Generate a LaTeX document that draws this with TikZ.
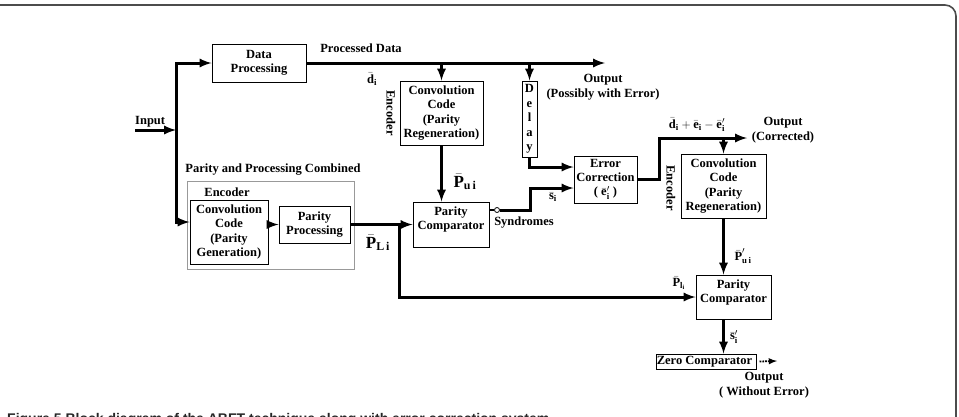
\documentclass[tikz,border=0pt]{standalone}
\usepackage{amsmath}
\usepackage{fontspec}
\setmainfont{Liberation Serif}
\newfontfamily\capfont{Liberation Sans}
\usetikzlibrary{shapes,arrows,positioning,calc}
\tikzstyle{block} = [rectangle, draw, line width=1pt, align=center, inner sep=1pt, font=\bfseries\fontsize{12.5}{14}\selectfont]
\tikzstyle{line} = [draw, -latex, line width=3pt]
\tikzstyle{txt} = [align=center, inner sep=0pt, font=\bfseries\fontsize{12.5}{14.5}\selectfont]
\tikzstyle{bigtxt} = [txt, font=\bfseries\fontsize{17}{20}\selectfont]
\begin{document}
\begin{tikzpicture}[x=1pt, y=-1pt, node distance=11pt, auto]
            \useasboundingbox (0,0) rectangle (959,416);
            \begin{scope}
                \clip (0,0) rectangle (959,416);
                \draw[line width=1.6pt, black!70, rounded corners=11pt] (-20,5) -- (956,5) -- (956,440);
                \node[anchor=base west, inner sep=0pt, text=black!85, font=\capfont\bfseries\fontsize{14}{16}\selectfont] (caption) at (7,423) {Figure 5 Block diagram of the ABFT technique along with error correction system};
            \end{scope}

            \coordinate (input) at (135,130);
            \coordinate (split) at (176,130);
            \coordinate (output_error) at (605,63);
            \coordinate (output_corrected) at (747,138);
            \coordinate (output_final) at (777,361);
            \coordinate (parity_split) at (399,224.5);
            \coordinate (syndrome_turn) at (530,210);
            \coordinate (ec_turn) at (659,179.5);

            \node[txt, anchor=south west] (input_label) at (135,127){
                Input
            };
            \node[block, minimum width=94pt, minimum height=38pt] (data_processing) at (259,63){
                Data\\Processing
            };
            \path[line] (input) -- (split);
            \path[line] (split) |- (data_processing);

            \node[block, minimum width=83pt, minimum height=64pt] (regen_upper) at (441.5,113){
                Convolution\\Code\\[1pt](Parity\\Regeneration)
            };
            \node[block, minimum width=15pt, minimum height=76pt, inner sep=0pt, font=\bfseries\fontsize{12.5}{14.6}\selectfont] (delay) at (529.5,119){
                D\\e\\l\\a\\y
            };
            \path[line] (data_processing) -- (output_error);
            \path[line] (regen_upper.north |- data_processing) -- (regen_upper);
            \path[line] (delay.north |- data_processing) -- (delay);

            \node[draw=black!40, line width=1pt, minimum width=167pt, minimum height=88pt] (combined) at (270.5,225){};
            \node[block, minimum width=78pt, minimum height=64pt] (conv_generation) at (229,232){
                Convolution\\Code\\[1pt](Parity\\Generation)
            };
            \node[block, minimum width=71pt, minimum height=37pt] (parity_processing) at (314.5,224.5){
                Parity\\Processing
            };
            \path[line] (split) |- ($(conv_generation.west)+(0,-10)$);
            \path[line] (conv_generation.east |- parity_processing) -- (parity_processing);

            \node[block, minimum width=76pt, minimum height=45pt] (comparator_upper) at (451,224.5){
                Parity\\Comparator\\[-2pt]\mbox{}
            };
            \path[line] (regen_upper) -- (regen_upper.south |- comparator_upper.north);
            \path[line] (parity_processing) -- (comparator_upper);

            \node[block, minimum width=63pt, minimum height=47pt] (error_correction) at (605.5,179.5){
                Error\\Correction\\( $\bar{\text{e}}'_{\text{i}}$ )
            };
            \node[circle, draw, line width=0.8pt, fill=white, inner sep=0pt, minimum size=5pt] (syndrome_tap) at (497,210){};
            \draw[line width=1.2pt] (comparator_upper.east |- syndrome_tap) -- (syndrome_tap);
            \path[line] (syndrome_tap) -- (syndrome_turn) |- ($(error_correction.west)+(0,8.5)$);
            \path[line] (delay) |- ($(error_correction.west)+(0,-12.5)$);

            \node[block, minimum width=85pt, minimum height=64pt] (regen_lower) at (723.5,186){
                Convolution\\Code\\[1pt](Parity\\Regeneration)
            };
            \path[line] (error_correction) -- (ec_turn) |- (output_corrected);
            \path[line] (regen_lower.north |- output_corrected) -- (regen_lower);

            \node[block, minimum width=75pt, minimum height=44pt] (comparator_lower) at (733.5,297){
                Parity\\Comparator\\[-2pt]\mbox{}
            };
            \path[line] (regen_lower) -- (regen_lower.south |- comparator_lower.north);
            \path[line] (parity_split) |- (comparator_lower);

            \node[block, minimum width=100pt, minimum height=15pt, inner sep=0pt] (zero_comparator) at (706,361.5){
                Zero Comparator
            };
            \path[line] (regen_lower.south |- comparator_lower.south) -- (regen_lower.south |- zero_comparator.north);
            \draw[densely dotted, line width=1.8pt, -latex] ($(zero_comparator.east)+(3,0)$) -- (output_final);

            % labels
            \node[txt] (processed_label) at (361,48) {Processed Data};
            \node[txt] (d_label) at (372,79) {$\bar{\text{d}}_{\text{i}}$};
            \node[txt, rotate=-90] (encoder_upper) at (391,113) {Encoder};
            \node[txt] (output_error_label) at (603,87) {Output\\(Possibly with Error)};
            \node[txt] (combined_label) at (273,170) {Parity and Processing Combined};
            \node[txt] (encoder_left) at (227,192) {Encoder};
            \node[bigtxt] (pl_label) at (378,243) {$\bar{\text{P}}_{\text{L\,i}}$};
            \node[bigtxt] (pu_label) at (465,182) {$\bar{\text{P}}_{\text{u\,i}}$};
            \node[txt] (s_label) at (553,197) {$\bar{\text{s}}_{\text{i}}$};
            \node[txt] (syndromes_label) at (524,223) {Syndromes};
            \node[txt] (corrected_sum) at (697,125) {$\bar{\text{d}}_{\text{i}}+\bar{\text{e}}_{\text{i}}-\bar{\text{e}}'_{\text{i}}$};
            \node[txt] (output_corrected_label) at (783,130) {Output\\(Corrected)};
            \node[txt, rotate=-90] (encoder_right) at (671,188) {Encoder};
            \node[txt] (pu_prime_label) at (743,256) {$\bar{\text{P}}'_{\text{u\,i}}$};
            \node[txt] (pl_hat_label) at (679,283) {$\bar{\text{P}}_{\text{l}_{\text{i}}}$};
            \node[txt] (s_prime_label) at (734,337) {$\bar{\text{s}}'_{\text{i}}$};
            \node[txt] (output_final_label) at (764,385) {Output\\( Without Error)};
        \end{tikzpicture}
\end{document}
